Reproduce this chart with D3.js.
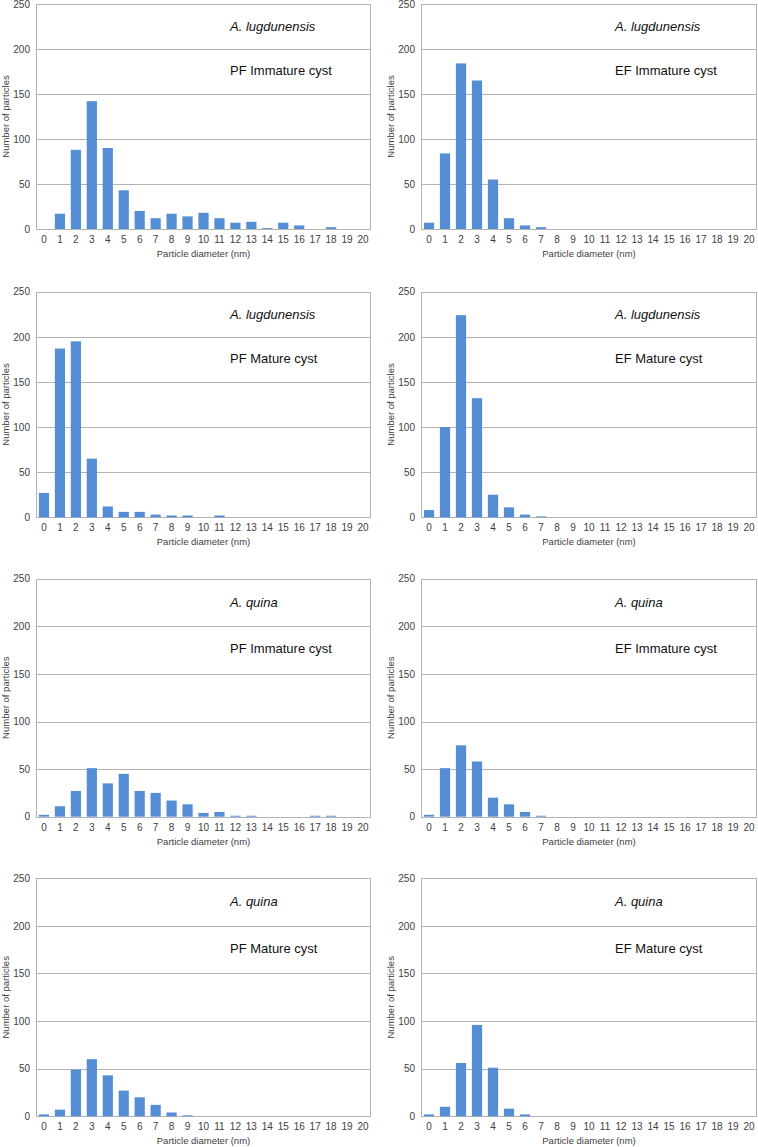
<!DOCTYPE html>
<html>
<head>
<meta charset="utf-8">
<script src="https://cdn.jsdelivr.net/npm/d3@7/dist/d3.min.js"></script>
<style>
  html, body { margin: 0; padding: 0; background: #fff; }
  svg { display: block; font-family: "Liberation Sans", Arial, sans-serif; }
</style>
</head>
<body>
<svg id="chart" width="758" height="1147"></svg>
<script>
// ---- data ----
const categories = [0,1,2,3,4,5,6,7,8,9,10,11,12,13,14,15,16,17,18,19,20];
const yTicks = [0, 50, 100, 150, 200, 250];
const xTitle = "Particle diameter (nm)";
const yTitle = "Number of particles";

const speciesNames = ["A. lugdunensis", "A. lugdunensis", "A. lugdunensis", "A. lugdunensis",
                      "A. quina", "A. quina", "A. quina", "A. quina"];
const panelLabels = ["PF Immature cyst", "EF Immature cyst", "PF Mature cyst", "EF Mature cyst",
                     "PF Immature cyst", "EF Immature cyst", "PF Mature cyst", "EF Mature cyst"];

const lugPFImmature = [0,17,88,142,90,43,20,12,17,14,18,12,7,8,1,7,4,0,2,0,0];
const lugEFImmature = [7,84,184,165,55,12,4,2,0,0,0,0,0,0,0,0,0,0,0,0,0];
const lugPFMature   = [27,187,195,65,12,6,6,3,2,2,0,2,0,0,0,0,0,0,0,0,0];
const lugEFMature   = [8,100,224,132,25,11,3,1,0,0,0,0,0,0,0,0,0,0,0,0,0];
const quiPFImmature = [2,11,27,51,35,45,27,25,17,13,4,5,1,1,0,0,0,1,1,0,0];
const quiEFImmature = [2,51,75,58,20,13,5,1,0,0,0,0,0,0,0,0,0,0,0,0,0];
const quiPFMature   = [2,7,49,60,43,27,20,12,4,1,0,0,0,0,0,0,0,0,0,0,0];
const quiEFMature   = [2,10,56,96,51,8,2,0,0,0,0,0,0,0,0,0,0,0,0,0,0];

const seriesList = [lugPFImmature, lugEFImmature, lugPFMature, lugEFMature,
                    quiPFImmature, quiEFImmature, quiPFMature, quiEFMature];

// ---- layout ----
const rowTops = [4, 291.7, 578.7, 878.3];
const rowHeights = [225, 225.6, 238, 238];
const colLeft = [36, 421];
const colRight = [371, 757];
const barColor = "#558ed5";
const gridColor = "#b4b4b4";
const textGrey = "#404040";

const svg = d3.select("#chart");

seriesList.forEach((values, i) => {
  const row = Math.floor(i / 2), col = i % 2;
  const top = rowTops[row], h = rowHeights[row];
  const left = colLeft[col], right = colRight[col];
  const bottom = top + h;

  const x = d3.scaleBand().domain(categories).range([left, right])
    .paddingInner(0.36).paddingOuter(0.18);
  const y = d3.scaleLinear().domain([0, 250]).range([bottom, top]);

  const g = svg.append("g");

  // gridlines
  g.append("g").selectAll("line").data(yTicks).join("line")
    .attr("x1", left).attr("x2", right)
    .attr("y1", d => Math.round(y(d)) + 0.5).attr("y2", d => Math.round(y(d)) + 0.5)
    .attr("stroke", gridColor).attr("stroke-width", 1);

  // plot border
  g.append("rect")
    .attr("x", left + 0.5).attr("y", Math.round(top) + 0.5)
    .attr("width", right - left - 1).attr("height", Math.round(bottom) - Math.round(top))
    .attr("fill", "none").attr("stroke", gridColor).attr("stroke-width", 1);

  // bars
  g.append("g").selectAll("rect").data(categories).join("rect")
    .attr("x", d => x(d))
    .attr("width", x.bandwidth())
    .attr("y", (d, k) => y(values[k]))
    .attr("height", (d, k) => Math.max(0, bottom - y(values[k])))
    .attr("fill", barColor);

  // y axis labels
  const yAxis = d3.axisLeft(y).tickValues(yTicks).tickSize(0).tickPadding(0);
  const ya = g.append("g").attr("transform", `translate(${left - 6},0)`).call(yAxis);
  ya.select(".domain").remove();
  ya.selectAll("text").attr("font-size", 10).attr("fill", textGrey)
    .attr("font-family", "Liberation Sans, Arial, sans-serif");

  // x axis labels
  const xAxis = d3.axisBottom(x).tickSize(0).tickPadding(0);
  const xa = g.append("g").attr("transform", `translate(0,${bottom + 7})`).call(xAxis);
  xa.select(".domain").remove();
  xa.selectAll("text").attr("font-size", 10).attr("fill", textGrey)
    .attr("font-family", "Liberation Sans, Arial, sans-serif");

  // axis titles
  g.append("text")
    .attr("x", (left + right) / 2).attr("y", bottom + 24.5)
    .attr("text-anchor", "middle").attr("dominant-baseline", "central")
    .attr("font-size", 9.5).attr("fill", textGrey).text(xTitle);

  g.append("text")
    .attr("transform", `translate(${left - 31},${(top + bottom) / 2}) rotate(-90)`)
    .attr("text-anchor", "middle").attr("dominant-baseline", "central")
    .attr("font-size", 9.5).attr("fill", textGrey).text(yTitle);

  // annotations
  g.append("text")
    .attr("x", left + 194).attr("y", top + h * 0.099)
    .attr("dominant-baseline", "central")
    .attr("font-size", 13).attr("font-style", "italic").attr("fill", "#111")
    .text(speciesNames[i]);
  g.append("text")
    .attr("x", left + 194).attr("y", top + h * 0.295)
    .attr("dominant-baseline", "central")
    .attr("font-size", 13).attr("fill", "#111")
    .text(panelLabels[i]);
});
</script>
</body>
</html>
